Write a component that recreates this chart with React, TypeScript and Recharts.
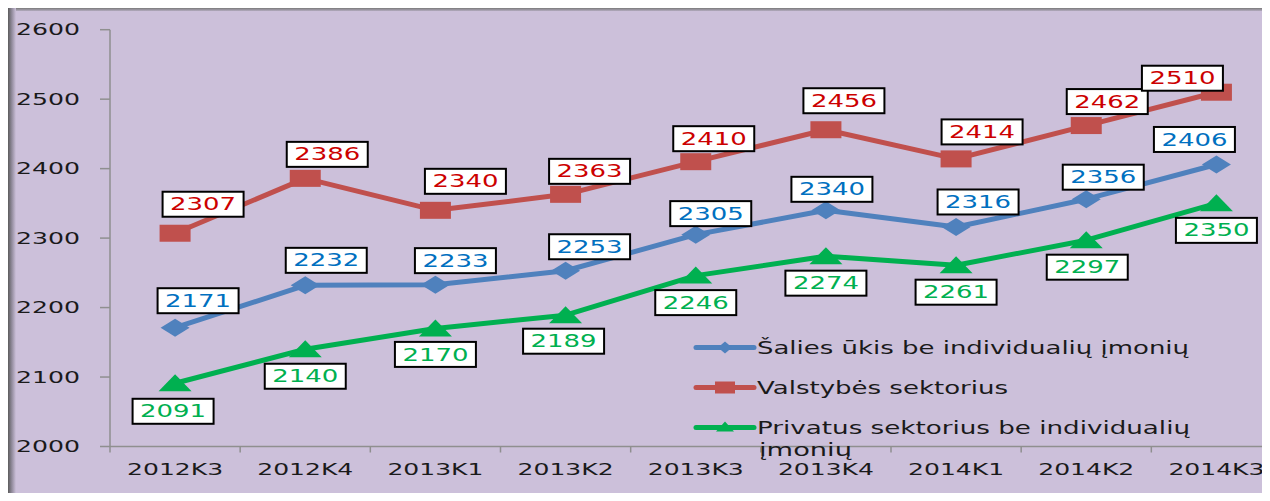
import React from 'react';
import { LineChart, Line, XAxis, YAxis, LabelList, Legend } from 'recharts';

// ---- data ----
const categories = ['2012K3', '2012K4', '2013K1', '2013K2', '2013K3', '2013K4', '2014K1', '2014K2', '2014K3'];
const saliesUkis = [2171, 2232, 2233, 2253, 2305, 2340, 2316, 2356, 2406];
const valstybesSektorius = [2307, 2386, 2340, 2363, 2410, 2456, 2414, 2462, 2510];
const privatusSektorius = [2091, 2140, 2170, 2189, 2246, 2274, 2261, 2297, 2350];
const yTicks = [2000, 2100, 2200, 2300, 2400, 2500, 2600];

const seriesNames = {
  salies: 'Šalies ūkis be individualių įmonių',
  valstybes: 'Valstybės sektorius',
  privatus: 'Privatus sektorius be individualių įmonių',
};
const legendOrder = [seriesNames.salies, seriesNames.valstybes, seriesNames.privatus];

// label placement (relative offsets of each label box from its point)
const saliesLabelOffsets: [number, number][] = [
  [23, -27], [21, -25], [20, -24], [24, -24], [15, -21], [6, -21], [22, -25], [17, -22], [-22, -25],
];
const valstybesLabelOffsets: [number, number][] = [
  [28, -29], [22, -24], [30, -29], [24, -23], [18, -23], [18, -29], [26, -27], [21, -24], [-34, -14],
];
const privatusLabelOffsets: [number, number][] = [
  [-2, 28], [0, 27], [0, 26], [-2, 26], [0, 27], [0, 27], [0, 27], [1, 27], [0, 27],
];

const chartData = categories.map((cat, i) => ({
  cat,
  salies: saliesUkis[i],
  valstybes: valstybesSektorius[i],
  privatus: privatusSektorius[i],
}));

// ---- styles ----
const FONT = '"DejaVu Sans", Verdana, sans-serif';
const BLUE = '#4F81BD';
const RED = '#C0504D';
const GREEN = '#00B050';
const BLUE_TXT = '#0070C0';
const RED_TXT = '#CC0000';
const GREEN_TXT = '#00B050';
const AXIS = '#8f8f8f';
const BG = '#CCC0DA';

const W = 1290;
const H = 493;
const MARGIN = { top: 21.7, right: 16.5, bottom: 14.5, left: 22 };
const Y_AXIS_W = 80;
const X_AXIS_H = 40;
const PLOT_W = W - MARGIN.left - Y_AXIS_W - MARGIN.right;
const BAND = PLOT_W / categories.length;

const XTick = (props: any) => {
  const { x, y, payload, index } = props;
  const left = x - BAND / 2;
  const right = x + BAND / 2;
  return (
    <g>
      <line x1={left} x2={left} y1={y} y2={y + 6} stroke={AXIS} strokeWidth={1.5} />
      {index === categories.length - 1 && (
        <line x1={right} x2={right} y1={y} y2={y + 6} stroke={AXIS} strokeWidth={1.5} />
      )}
      <text
        x={x}
        y={y + 22.5 + 0.36 * 16}
        textAnchor="middle"
        fontFamily={FONT}
        fontSize={16}
        fill="#1a1a1a"
        textLength={96}
        lengthAdjust="spacingAndGlyphs"
      >
        {payload.value}
      </text>
    </g>
  );
};

const YTick = (props: any) => {
  const { x, y, payload } = props;
  return (
    <g>
      <line x1={x - 10} x2={x} y1={y} y2={y} stroke={AXIS} strokeWidth={1.5} />
      <text
        x={x - 30}
        y={y + 0.36 * 16}
        textAnchor="end"
        fontFamily={FONT}
        fontSize={16}
        fill="#1a1a1a"
        textLength={64}
        lengthAdjust="spacingAndGlyphs"
      >
        {payload.value}
      </text>
    </g>
  );
};

const Diamond = ({ cx, cy, color, hw = 14.5, hh = 9 }: any) => (
  <polygon points={`${cx},${cy - hh} ${cx + hw},${cy} ${cx},${cy + hh} ${cx - hw},${cy}`} fill={color} />
);
const Square = ({ cx, cy, color, w = 31, h = 17 }: any) => (
  <rect x={cx - w / 2} y={cy - h / 2} width={w} height={h} fill={color} />
);
const Triangle = ({ cx, cy, color, hw = 16.5, up = 9, down = 8 }: any) => (
  <polygon points={`${cx},${cy - up} ${cx + hw},${cy + down} ${cx - hw},${cy + down}`} fill={color} />
);

const makeLabel = (color: string, offsets: [number, number][]) => (props: any) => {
  const vb = props.viewBox || {};
  const px = (vb.x ?? props.x) + (vb.width || 0) / 2;
  const py = (vb.y ?? props.y) + (vb.height || 0) / 2;
  const idx = props.index ?? 0;
  const [dx, dy] = offsets[idx] || [0, -25];
  const cx = px + dx;
  const cy = py + dy;
  return (
    <g>
      <rect x={cx - 40.5} y={cy - 12.5} width={81} height={25} fill="#ffffff" stroke="#000000" strokeWidth={2} />
      <text
        x={cx}
        y={cy + 0.36 * 17}
        textAnchor="middle"
        fontFamily={FONT}
        fontSize={17}
        fill={color}
        textLength={66}
        lengthAdjust="spacingAndGlyphs"
      >
        {props.value}
      </text>
    </g>
  );
};

const legendTextLengths: Record<string, number> = {
  'Šalies ūkis be individualių įmonių': 432,
  'Valstybės sektorius': 251,
  'Privatus sektorius be individualių': 433,
  'įmonių': 93,
};

const legendShapes: Record<string, string> = {
  [seriesNames.salies]: 'diamond',
  [seriesNames.valstybes]: 'square',
  [seriesNames.privatus]: 'triangle',
};

const LegendContent = (props: any) => {
  const payload = [...(props.payload || [])].sort(
    (a: any, b: any) => legendOrder.indexOf(a.value) - legendOrder.indexOf(b.value)
  );
  const rowY = [17.5, 57.5, 97.5];
  return (
    <svg width={540} height={140} style={{ display: 'block', overflow: 'visible' }}>
      {payload.map((entry: any, i: number) => {
        const name: string = entry.value;
        const color: string = entry.color;
        const y = rowY[i];
        const lines = name.length > 36
          ? [name.slice(0, name.lastIndexOf(' ')), name.slice(name.lastIndexOf(' ') + 1)]
          : [name];
        const shape = legendShapes[name];
        return (
          <g key={name}>
            <line x1={2} x2={60} y1={y} y2={y} stroke={color} strokeWidth={5} strokeLinecap="round" />
            {shape === 'diamond' && <Diamond cx={31} cy={y} color={color} hw={7} hh={6} />}
            {shape === 'square' && <Square cx={31} cy={y} color={color} w={20} h={12} />}
            {shape === 'triangle' && <Triangle cx={31} cy={y} color={color} hw={9} up={6} down={4} />}
            {lines.map((t, j) => (
              <text
                key={t}
                x={j === 0 ? 63 : 65}
                y={y + j * 22.5 + 0.36 * 17}
                fontFamily={FONT}
                fontSize={17}
                fill="#1a1a1a"
                textLength={legendTextLengths[t]}
                lengthAdjust="spacingAndGlyphs"
              >
                {t}
              </text>
            ))}
          </g>
        );
      })}
    </svg>
  );
};

export default function App() {
  return (
    <div style={{ position: 'relative', width: 1262, height: 493, marginBottom: -8, overflow: 'hidden', background: BG }}>
      <LineChart width={W} height={H} data={chartData} margin={MARGIN}>
        <XAxis
          dataKey="cat"
          height={X_AXIS_H}
          padding={{ left: BAND / 2, right: BAND / 2 }}
          tickSize={0}
          tickMargin={0}
          interval={0}
          axisLine={{ stroke: AXIS, strokeWidth: 1.5 }}
          tickLine={false}
          tick={<XTick />}
        />
        <YAxis
          width={Y_AXIS_W}
          domain={[2000, 2600]}
          ticks={yTicks}
          interval={0}
          tickSize={0}
          tickMargin={0}
          axisLine={{ stroke: AXIS, strokeWidth: 1.5 }}
          tickLine={false}
          tick={<YTick />}
        />
        <Legend
          layout="vertical"
          align="center"
          verticalAlign="middle"
          itemSorter={null as any}
          content={<LegendContent />}
          wrapperStyle={{ position: 'absolute', left: 686, top: 322, width: 540, height: 140 }}
        />
        <Line
          type="linear"
          dataKey="salies"
          name={seriesNames.salies}
          stroke={BLUE}
          strokeWidth={5}
          strokeLinejoin="round"
          isAnimationActive={false}
          activeDot={false}
          dot={(p: any) => <Diamond key={`d-${p.index}`} cx={p.cx} cy={p.cy} color={BLUE} />}
        >
          <LabelList dataKey="salies" content={makeLabel(BLUE_TXT, saliesLabelOffsets)} />
        </Line>
        <Line
          type="linear"
          dataKey="valstybes"
          name={seriesNames.valstybes}
          stroke={RED}
          strokeWidth={5}
          strokeLinejoin="round"
          isAnimationActive={false}
          activeDot={false}
          dot={(p: any) => <Square key={`s-${p.index}`} cx={p.cx} cy={p.cy} color={RED} />}
        >
          <LabelList dataKey="valstybes" content={makeLabel(RED_TXT, valstybesLabelOffsets)} />
        </Line>
        <Line
          type="linear"
          dataKey="privatus"
          name={seriesNames.privatus}
          stroke={GREEN}
          strokeWidth={5}
          strokeLinejoin="round"
          isAnimationActive={false}
          activeDot={false}
          dot={(p: any) => <Triangle key={`t-${p.index}`} cx={p.cx} cy={p.cy} color={GREEN} />}
        >
          <LabelList dataKey="privatus" content={makeLabel(GREEN_TXT, privatusLabelOffsets)} />
        </Line>
      </LineChart>
      <div style={{ position: 'absolute', left: 0, top: 0, right: 0, height: 3, background: 'linear-gradient(#7a7a7a, #b3abbf)', pointerEvents: 'none' }} />
      <div style={{ position: 'absolute', left: 0, top: 0, bottom: 0, width: 8, background: 'linear-gradient(to right, #5c5c5c, #8e8898 45%, #CCC0DA)', pointerEvents: 'none' }} />
      <div style={{ position: 'absolute', right: 0, top: 0, bottom: 0, width: 3, background: 'linear-gradient(to right, #CCC0DA, #aaa4b2)', pointerEvents: 'none' }} />
    </div>
  );
}
